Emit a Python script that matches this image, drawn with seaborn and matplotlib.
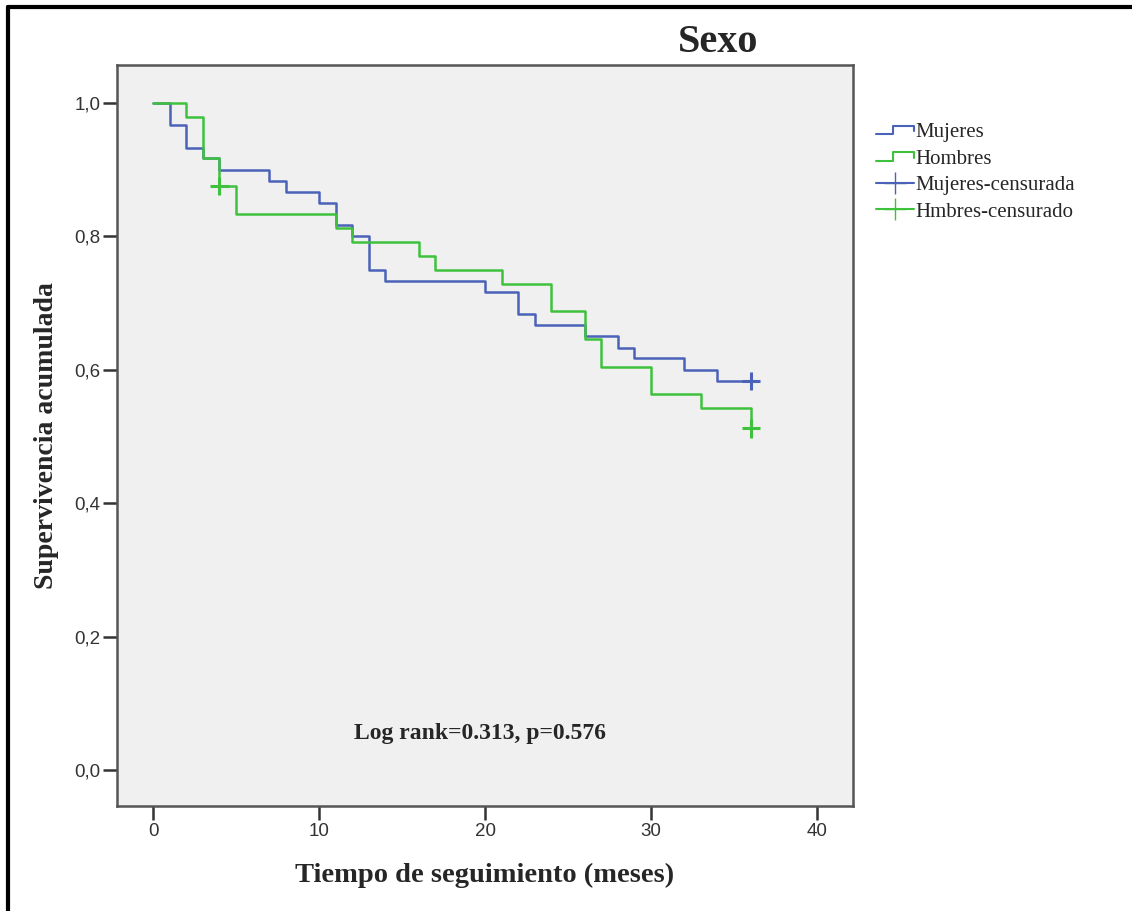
import matplotlib
matplotlib.use("Agg")
import matplotlib.pyplot as plt
import seaborn as sns
import pandas as pd
from matplotlib.lines import Line2D
from matplotlib.legend_handler import HandlerLine2D

# Kaplan-Meier steps
mujeres_t = [0, 1, 2, 3, 4, 7, 8, 10, 11, 12, 13, 14, 20, 22, 23, 26, 28, 29, 32, 34, 36]
mujeres_s = [1.0, 0.967, 0.933, 0.917, 0.900, 0.883, 0.867, 0.850, 0.817, 0.800, 0.750,
             0.733, 0.717, 0.683, 0.667, 0.650, 0.633, 0.617, 0.600, 0.583, 0.583]
hombres_t = [0, 2, 3, 4, 5, 11, 12, 16, 17, 21, 24, 26, 27, 30, 33, 36]
hombres_s = [1.0, 0.979, 0.917, 0.875, 0.833, 0.813, 0.792, 0.771, 0.750, 0.729,
             0.688, 0.646, 0.604, 0.563, 0.542, 0.512]

# censored observations
cens_grupo = ["Mujeres-censurada", "Hmbres-censurado", "Hmbres-censurado"]
cens_t = [36, 4, 36]
cens_s = [0.583, 0.875, 0.512]

blue = "#4a62b8"
green = "#3ec23e"

curvas = pd.concat([
    pd.DataFrame({"t": mujeres_t, "s": mujeres_s, "grupo": "Mujeres"}),
    pd.DataFrame({"t": hombres_t, "s": hombres_s, "grupo": "Hombres"}),
])
censuras = pd.DataFrame({"t": cens_t, "s": cens_s, "grupo": cens_grupo})

sns.set_style("ticks")
plt.rcParams["font.family"] = ["Liberation Sans", "DejaVu Sans"]

fig = plt.figure(figsize=(11.32, 9.11), dpi=100)
ax = fig.add_axes([0.1034, 0.1153, 0.6501, 0.8134])
ax.set_facecolor("#f0f0f0")

sns.lineplot(data=curvas, x="t", y="s", hue="grupo", palette={"Mujeres": blue, "Hombres": green},
             estimator=None, sort=False, drawstyle="steps-post", linewidth=1.8, ax=ax, legend=False)
sns.scatterplot(data=censuras, x="t", y="s", hue="grupo",
                palette={"Mujeres-censurada": blue, "Hmbres-censurado": green},
                marker="+", s=170, linewidth=2.2, ax=ax, legend=False, zorder=5)

ax.set_xlim(-2.17, 42.17)
ax.set_ylim(-0.054, 1.057)
ax.set_xticks([0, 10, 20, 30, 40])
ax.set_yticks([0.0, 0.2, 0.4, 0.6, 0.8, 1.0])
ax.set_yticklabels(["0,0", "0,2", "0,4", "0,6", "0,8", "1,0"])
ax.tick_params(direction="out", length=10, width=1.8, colors="#333333", labelsize=13.5, pad=2)
for sp in ax.spines.values():
    sp.set_color("#555555")
    sp.set_linewidth(1.8)

serif = ["Liberation Serif", "DejaVu Serif"]
ax.set_xlabel("Tiempo de seguimiento (meses)", fontsize=20.5, fontweight="bold", family=serif, labelpad=17)
ax.set_ylabel("Supervivencia acumulada", fontsize=20, fontweight="bold", family=serif, labelpad=11)
fig.text(0.634, 0.953, "Sexo", fontsize=29, fontweight="bold", family=serif, ha="center", va="center")
ax.text(19.67, 0.055, "Log rank=0.313, p=0.576", fontsize=17, fontweight="bold", family=serif,
        ha="center", va="center")


class StepHandler(HandlerLine2D):
    def create_artists(self, legend, orig_handle, xdescent, ydescent, width, height, fontsize, trans):
        y0 = height / 2 - ydescent - height * 0.3
        y1 = height / 2 - ydescent + height * 0.3
        xs = [-xdescent, -xdescent + width * 0.45, -xdescent + width * 0.45,
              -xdescent + width, -xdescent + width]
        ys = [y0, y0, y1, y1, y0 + height * 0.2]
        ln = Line2D(xs, ys, color=orig_handle.get_color(), linewidth=1.5)
        ln.set_transform(trans)
        return [ln]


handles = [
    Line2D([], [], color=blue),
    Line2D([], [], color=green),
    Line2D([], [], color=blue, marker="+", markersize=16, linewidth=1.5),
    Line2D([], [], color=green, marker="+", markersize=16, linewidth=1.5),
]
labels = ["Mujeres", "Hombres", "Mujeres-censurada", "Hmbres-censurado"]
fig.legend(handles, labels, loc="upper left", bbox_to_anchor=(0.7665, 0.8745), frameon=False,
           prop={"family": serif, "size": 15}, handlelength=1.8, handletextpad=0.08,
           labelspacing=0.33, borderaxespad=0,
           handler_map={handles[0]: StepHandler(), handles[1]: StepHandler()})

# outer frame (only top and left edges visible)
fig.add_artist(Line2D([0.0068, 0.0068], [0, 0.9925], color="black", linewidth=3, transform=fig.transFigure))
fig.add_artist(Line2D([0.0068, 1], [0.9925, 0.9925], color="black", linewidth=3, transform=fig.transFigure))

fig.savefig("out.png", dpi=100)
